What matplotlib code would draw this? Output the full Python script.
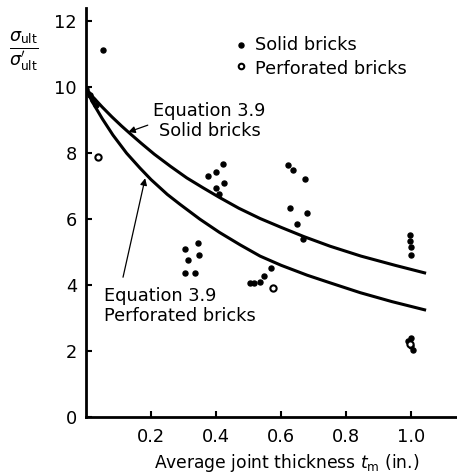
import matplotlib.pyplot as plt

plt.rcParams['font.family'] = ['DejaVu Sans']
plt.rcParams['mathtext.fontset'] = 'dejavusans'

# measured points (joint thickness in., strength ratio)
solid_t = [0.051, 0.0, 0.012, 0.022, 0.03,
           0.375, 0.40, 0.42, 0.40, 0.425, 0.41,
           0.305, 0.345, 0.348, 0.314, 0.305, 0.335,
           0.62, 0.637, 0.674, 0.628, 0.68, 0.65, 0.668,
           0.57, 0.548, 0.535, 0.517, 0.505,
           0.997, 0.997, 1.0, 1.0,
           0.99, 1.0, 1.0, 1.005]
solid_v = [11.12, 9.95, 9.76, 9.6, 9.45,
           7.30, 7.42, 7.67, 6.94, 7.09, 6.76,
           5.09, 5.27, 4.91, 4.76, 4.36, 4.36,
           7.64, 7.48, 7.21, 6.33, 6.18, 5.85, 5.39,
           4.52, 4.27, 4.09, 4.06, 4.06,
           5.52, 5.33, 5.15, 4.91,
           2.3, 2.4, 2.15, 2.02]

perf_t = [0.037, 0.575, 0.995]
perf_v = [7.88, 3.91, 2.22]

# Equation 3.9 curves
solid_curve_t = [0, 0.02, 0.05, 0.08, 0.11, 0.135, 0.17, 0.21, 0.26, 0.31,
                 0.36, 0.41, 0.47, 0.535, 0.6, 0.67, 0.75, 0.845, 0.95, 1.045]
solid_curve_v = [9.97, 9.72, 9.4, 9.1, 8.82, 8.6, 8.3, 7.97, 7.6, 7.25,
                 6.95, 6.66, 6.33, 6.02, 5.75, 5.47, 5.18, 4.88, 4.6, 4.36]
perf_curve_t = [0, 0.02, 0.05, 0.083, 0.125, 0.166, 0.2, 0.25, 0.289, 0.35,
                0.41, 0.474, 0.535, 0.6, 0.68, 0.75, 0.843, 0.94, 1.045]
perf_curve_v = [9.95, 9.55, 9.05, 8.55, 8.0, 7.55, 7.2, 6.75, 6.45, 6.0,
                5.6, 5.22, 4.88, 4.6, 4.3, 4.07, 3.77, 3.5, 3.24]

x_ticks = [0.2, 0.4, 0.6, 0.8, 1.0]
x_labels = ['0.2', '0.4', '0.6', '0.8', '1.0']
y_ticks = [0, 2, 4, 6, 8, 10, 12]

fig = plt.figure(figsize=(4.57, 4.75), dpi=100)
ax = fig.add_axes([0.188, 0.122, 0.812, 0.861])

ax.plot(solid_curve_t, solid_curve_v, color='black', lw=2.2, solid_capstyle='butt')
ax.plot(perf_curve_t, perf_curve_v, color='black', lw=2.2, solid_capstyle='butt')
ax.plot(solid_t, solid_v, 'o', color='black', ms=3.6, ls='none')
ax.plot(perf_t, perf_v, 'o', mfc='white', mec='black', mew=1.5, ms=4.5, ls='none')

ax.set_xlim(0, 1.14)
ax.set_ylim(0, 12.4)
for s in ['top', 'right']:
    ax.spines[s].set_visible(False)
for s in ['left', 'bottom']:
    ax.spines[s].set_linewidth(2.0)
ax.set_xticks(x_ticks)
ax.set_xticklabels(x_labels)
ax.set_yticks(y_ticks)
ax.tick_params(direction='in', length=4, width=1.5, labelsize=12.8)
ax.tick_params(axis='y', pad=6.5)
ax.tick_params(axis='x', pad=8)

ax.set_xlabel(r'Average joint thickness $t_{\rm m}$ (in.)', fontsize=12.3)
ax.xaxis.set_label_coords(0.542, -0.085)

fig.text(0.053, 0.893, r'$\frac{\sigma_{\rm ult}}{\sigma^{\prime}_{\rm ult}}$',
         fontsize=18, ha='center', va='center')

# legend drawn as marks and text
ax.plot([0.477], [11.27], 'o', color='black', ms=3.6)
ax.text(0.52, 11.27, 'Solid bricks', fontsize=12.8, va='center')
ax.plot([0.477], [10.65], 'o', mfc='white', mec='black', mew=1.5, ms=4)
ax.text(0.52, 10.55, 'Perforated bricks', fontsize=12.8, va='center')

ax.text(0.38, 8.98, 'Equation 3.9\nSolid bricks', fontsize=12.8,
        ha='center', va='center', linespacing=1.15)
ax.annotate('', xy=(0.13, 8.64), xytext=(0.19, 8.85),
            arrowprops=dict(arrowstyle='-|>', color='black', lw=0.9,
                            mutation_scale=10, shrinkA=0, shrinkB=0))
ax.annotate('', xy=(0.182, 7.24), xytext=(0.114, 4.24),
            arrowprops=dict(arrowstyle='-|>', color='black', lw=0.9,
                            mutation_scale=10, shrinkA=0, shrinkB=0))
ax.text(0.055, 3.38, 'Equation 3.9\nPerforated bricks', fontsize=12.8,
        ha='left', va='center', linespacing=1.15)

fig.savefig('out.png', dpi=100)
